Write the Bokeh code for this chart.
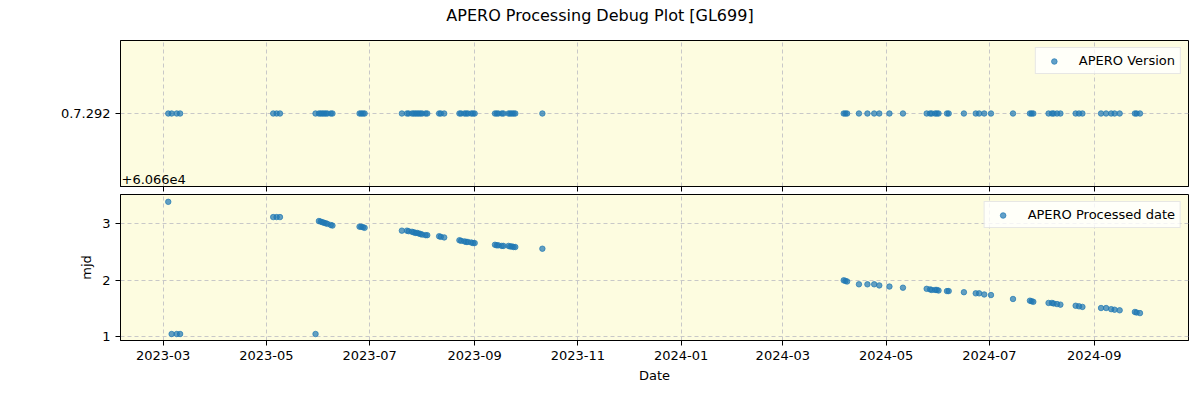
from datetime import datetime
from bokeh.plotting import figure
from bokeh.layouts import column
from bokeh.models import (Range1d, FixedTicker, MonthsTicker, DatetimeTickFormatter, Div,
                          CustomJSTickFormatter, Label, Legend, LegendItem, ColumnDataSource)
from bokeh.embed import file_html
from bokeh.resources import INLINE

TITLE = "APERO Processing Debug Plot [GL699]"
VERSION = "0.7.292"
MJD_OFFSET = 60660

obs_dates = [
    "2023-03-04", "2023-03-06", "2023-03-09", "2023-03-11",
    "2023-05-05", "2023-05-07", "2023-05-09", "2023-05-30",
    "2023-06-01", "2023-06-02", "2023-06-03", "2023-06-04", "2023-06-05", "2023-06-06", "2023-06-08", "2023-06-09",
    "2023-06-25", "2023-06-26", "2023-06-27", "2023-06-28",
    "2023-07-20", "2023-07-23", "2023-07-24", "2023-07-26", "2023-07-27", "2023-07-28", "2023-07-29",
    "2023-07-30", "2023-07-31", "2023-08-01", "2023-08-03", "2023-08-04",
    "2023-08-11", "2023-08-12", "2023-08-14",
    "2023-08-23", "2023-08-24", "2023-08-26", "2023-08-27", "2023-08-28", "2023-08-30", "2023-08-31", "2023-09-01",
    "2023-09-13", "2023-09-14", "2023-09-15", "2023-09-17", "2023-09-18", "2023-09-21", "2023-09-22",
    "2023-09-23", "2023-09-24", "2023-09-25",
    "2023-10-11",
    "2024-04-06", "2024-04-07", "2024-04-08", "2024-04-15", "2024-04-20", "2024-04-24", "2024-04-27",
    "2024-05-03", "2024-05-11",
    "2024-05-25", "2024-05-27", "2024-05-28", "2024-05-30", "2024-05-31", "2024-06-01",
    "2024-06-06", "2024-06-07", "2024-06-16", "2024-06-23", "2024-06-25", "2024-06-28", "2024-07-02",
    "2024-07-15", "2024-07-25", "2024-07-26", "2024-07-27",
    "2024-08-05", "2024-08-07", "2024-08-08", "2024-08-10", "2024-08-12",
    "2024-08-21", "2024-08-23", "2024-08-25",
    "2024-09-05", "2024-09-08", "2024-09-11", "2024-09-13", "2024-09-16",
    "2024-09-25", "2024-09-26", "2024-09-28",
]

processed_mjd = [
    60663.39, 60661.05, 60661.05, 60661.05,
    60663.12, 60663.12, 60663.12, 60661.05,
    60663.05, 60663.04, 60663.03, 60663.02, 60663.01, 60663.00, 60662.98, 60662.97,
    60662.95, 60662.95, 60662.94, 60662.93,
    60662.88, 60662.88, 60662.87, 60662.86, 60662.85, 60662.84, 60662.84,
    60662.83, 60662.82, 60662.81, 60662.80, 60662.80,
    60662.78, 60662.77, 60662.76,
    60662.71, 60662.70, 60662.69, 60662.68, 60662.68, 60662.67, 60662.66, 60662.66,
    60662.63, 60662.62, 60662.62, 60662.61, 60662.61, 60662.61, 60662.60,
    60662.60, 60662.59, 60662.59,
    60662.56,
    60662.00, 60661.99, 60661.98, 60661.93, 60661.93, 60661.93, 60661.91,
    60661.89, 60661.87,
    60661.85, 60661.84, 60661.83, 60661.83, 60661.83, 60661.82,
    60661.81, 60661.81, 60661.79, 60661.77, 60661.77, 60661.75, 60661.74,
    60661.67, 60661.64, 60661.63, 60661.62,
    60661.60, 60661.60, 60661.59, 60661.58, 60661.57,
    60661.55, 60661.54, 60661.53,
    60661.51, 60661.51, 60661.49, 60661.48, 60661.47,
    60661.44, 60661.43, 60661.42,
]

x_vals = [datetime.strptime(d, "%Y-%m-%d") for d in obs_dates]
y_rel = [m - MJD_OFFSET for m in processed_mjd]
src = ColumnDataSource(dict(x=x_vals, v=[0.0] * len(x_vals), y=y_rel))

BG = "#fdfce0"
BLUE = "#1f77b4"
FONT = "DejaVu Sans"
xr = Range1d(datetime(2023, 2, 3, 19), datetime(2024, 10, 26, 16))


def style(p):
    p.background_fill_color = BG
    p.border_fill_color = "white"
    p.outline_line_color = "black"
    p.outline_line_width = 1
    for ax in list(p.xaxis) + list(p.yaxis):
        ax.axis_line_color = "black"
        ax.major_tick_line_color = "black"
        ax.major_tick_out = 5
        ax.major_tick_in = 0
        ax.minor_tick_line_color = None
        ax.major_label_text_font = FONT
        ax.major_label_text_font_size = "13px"
        ax.major_label_text_color = "black"
        ax.axis_label_text_font = FONT
        ax.axis_label_text_font_size = "13px"
        ax.axis_label_text_font_style = "normal"
        ax.axis_label_text_color = "black"
    for g in list(p.xgrid) + list(p.ygrid):
        g.grid_line_color = "#c8c8c8"
        g.grid_line_dash = "4 3"
        g.grid_line_width = 1
    # Bokeh months are 0-indexed: Jan, Mar, May, Jul, Sep, Nov
    p.xaxis.ticker = MonthsTicker(months=[0, 2, 4, 6, 8, 10])
    p.xaxis.formatter = DatetimeTickFormatter(months="%Y-%m", days="%Y-%m", years="%Y-%m")


def legend(p, r, text):
    lg = Legend(items=[LegendItem(label=text, renderers=[r])], location="top_right",
                margin=7, padding=5, spacing=0, glyph_width=26, glyph_height=14,
                label_standoff=12, label_text_font=FONT, label_text_font_size="13px",
                label_text_color="black",
                border_line_color="#d0d0d0", border_line_width=1,
                background_fill_color="white", background_fill_alpha=0.8)
    p.add_layout(lg)


title_div = Div(text=TITLE, width=1200, height=32, margin=(0, 0, 0, 0),
                styles={"text-align": "center", "font-family": FONT, "font-size": "16px",
                        "line-height": "32px", "color": "black", "width": "1200px"})

p1 = figure(width=1200, height=162, x_axis_type="datetime", x_range=xr,
            y_range=Range1d(-1, 1), output_backend="svg", toolbar_location=None,
            min_border_left=120, min_border_right=12, min_border_top=8, min_border_bottom=8)
r1 = p1.scatter("x", "v", source=src, size=5.5, color=BLUE, alpha=0.7)
style(p1)
p1.xaxis.formatter = CustomJSTickFormatter(code="return ''")
p1.xaxis.major_label_standoff = 0
p1.yaxis.ticker = FixedTicker(ticks=[0])
p1.yaxis.major_label_overrides = {0: VERSION}
legend(p1, r1, "APERO Version")
p1.add_layout(Label(x=xr.start, y=-1, y_units="data", text="+6.066e4", text_font=FONT,
                    text_font_size="13px", text_baseline="bottom", x_offset=1, y_offset=3,
                    text_color="black"))

p2 = figure(width=1200, height=206, x_axis_type="datetime", x_range=xr,
            y_range=Range1d(0.935, 3.52), output_backend="svg", toolbar_location=None,
            min_border_left=120, min_border_right=12, min_border_top=0, min_border_bottom=60)
r2 = p2.scatter("x", "y", source=src, size=5.5, color=BLUE, alpha=0.7)
style(p2)
p2.yaxis.ticker = FixedTicker(ticks=[1, 2, 3])
p2.yaxis.axis_label = "mjd"
p2.xaxis.axis_label = "Date"
legend(p2, r2, "APERO Processed date")

layout = column(title_div, p1, p2, spacing=0)
open("out.html", "w").write(file_html(layout, INLINE))
